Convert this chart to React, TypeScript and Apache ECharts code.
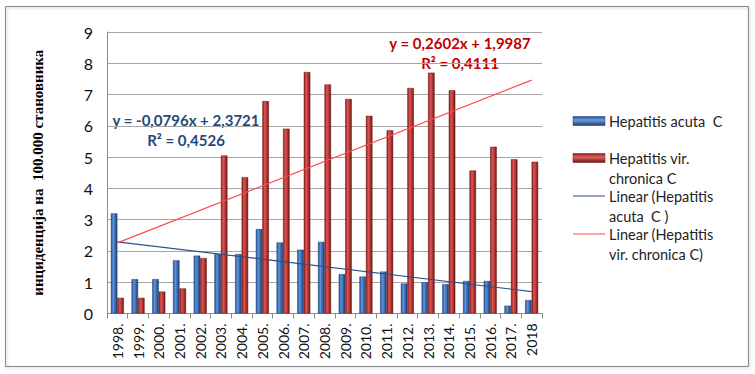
import React, { useEffect, useRef } from "react";
import * as echarts from "echarts";

const years = ["1998.", "1999.", "2000.", "2001.", "2002.", "2003.", "2004.", "2005.", "2006.", "2007.", "2008.", "2009.", "2010.", "2011.", "2012.", "2013.", "2014.", "2015.", "2016.", "2017.", "2018"];
const acute = [3.2, 1.1, 1.1, 1.7, 1.85, 1.9, 1.9, 2.7, 2.27, 2.04, 2.29, 1.26, 1.18, 1.34, 0.96, 1.0, 0.94, 1.04, 1.04, 0.25, 0.43];
const chronic = [0.5, 0.5, 0.7, 0.8, 1.77, 5.05, 4.36, 6.79, 5.91, 7.72, 7.32, 6.86, 6.32, 5.86, 7.21, 7.7, 7.14, 4.57, 5.33, 4.93, 4.85];
const yTicks = [0, 1, 2, 3, 4, 5, 6, 7, 8, 9];
// trend-line coefficients as printed on the chart
const acuteTrend = { slope: -0.0796, intercept: 2.3721 };
const chronicTrend = { slope: 0.2602, intercept: 1.9987 };
const acuteEq = ["y = -0,0796x + 2,3721", "R² = 0,4526"];
const chronicEq = ["y = 0,2602x + 1,9987", "R² = 0,4111"];
const legendNames = ["Hepatitis acuta  C", "Hepatitis vir.\nchronica C", "Linear (Hepatitis\nacuta  C )", "Linear (Hepatitis\nvir. chronica C)"];
const yAxisName = "инциденција на  100.000 становника";

const trendEnds = (t: { slope: number; intercept: number }) => [
  [years[0], t.slope * 1 + t.intercept],
  [years[years.length - 1], t.slope * years.length + t.intercept],
];

const blueGrad = new echarts.graphic.LinearGradient(0, 0, 1, 0, [
  { offset: 0, color: "#244f8c" },
  { offset: 0.35, color: "#5f95dc" },
  { offset: 0.65, color: "#3a6cb3" },
  { offset: 1, color: "#1c3f72" },
]);
const redGrad = new echarts.graphic.LinearGradient(0, 0, 1, 0, [
  { offset: 0, color: "#8a1e1b" },
  { offset: 0.35, color: "#dc5550" },
  { offset: 0.65, color: "#b8393a" },
  { offset: 1, color: "#6a1513" },
]);
const blueLeg = new echarts.graphic.LinearGradient(0, 0, 0, 1, [
  { offset: 0, color: "#244f8c" },
  { offset: 0.4, color: "#6a9de0" },
  { offset: 1, color: "#1c3f72" },
]);
const redLeg = new echarts.graphic.LinearGradient(0, 0, 0, 1, [
  { offset: 0, color: "#8a1e1b" },
  { offset: 0.4, color: "#e06460" },
  { offset: 1, color: "#6a1513" },
]);

export default function App() {
  const ref = useRef<HTMLDivElement>(null);
  useEffect(() => {
    document.body.style.margin = "0";
    const chart = echarts.init(ref.current!, null, { renderer: "svg" });
    const legendX = 573;
    const legendItems = [
      { y: 121, kind: "bar", color: blueLeg, border: "#1c3f72" },
      { y: 158, kind: "bar", color: redLeg, border: "#6a1513" },
      { y: 196, kind: "line", color: "#2e4f8a" },
      { y: 234, kind: "line", color: "#ff4a4a" },
    ];
    const graphics: any[] = [
      {
        type: "rect",
        shape: { x: 5.5, y: 6.5, width: 743, height: 360 },
        style: { fill: "none", stroke: "#8c8c8c", lineWidth: 1, shadowColor: "rgba(0,0,0,0.25)", shadowBlur: 3, shadowOffsetX: 1, shadowOffsetY: 1 },
        silent: true,
      },
    ];
    legendItems.forEach((it, i) => {
      if (it.kind === "bar") {
        graphics.push({
          type: "rect",
          shape: { x: legendX, y: it.y - 4.5, width: 32, height: 9 },
          style: { fill: it.color, stroke: it.border, lineWidth: 0.5 },
        });
      } else {
        graphics.push({
          type: "line",
          shape: { x1: legendX, y1: it.y, x2: legendX + 32, y2: it.y },
          style: { stroke: it.color as string, lineWidth: 1 },
        });
      }
      graphics.push({
        type: "text",
        x: 609,
        y: it.y - 10,
        style: { text: legendNames[i], fontFamily: "Lato", fontSize: 14.5, lineHeight: 20, fill: "#222", verticalAlign: "top", align: "left" },
      });
    });
    graphics.push(
      { type: "text", x: 186, y: 120, style: { text: acuteEq[0], fontFamily: "Lato", fontWeight: "bold", fontSize: 15, fill: "#1f497d", align: "center", verticalAlign: "middle" } },
      { type: "text", x: 186, y: 140, style: { text: acuteEq[1], fontFamily: "Lato", fontWeight: "bold", fontSize: 15, fill: "#1f497d", align: "center", verticalAlign: "middle" } },
      { type: "text", x: 460, y: 43, style: { text: chronicEq[0], fontFamily: "Lato", fontWeight: "bold", fontSize: 15, fill: "#c00000", align: "center", verticalAlign: "middle" } },
      { type: "text", x: 460, y: 63, style: { text: chronicEq[1], fontFamily: "Lato", fontWeight: "bold", fontSize: 15, fill: "#c00000", align: "center", verticalAlign: "middle" } }
    );
    chart.setOption({
      animation: false,
      backgroundColor: "#fff",
      grid: { left: 107, right: 213, top: 32, bottom: 60.5, containLabel: false },
      xAxis: {
        type: "category",
        data: years,
        boundaryGap: true,
        axisLine: { lineStyle: { color: "#8c8c8c", width: 1 } },
        axisTick: { show: true, length: 5, lineStyle: { color: "#8c8c8c" } },
        axisLabel: { rotate: 90, interval: 0, fontFamily: "Lato", fontSize: 14, color: "#111", margin: 10 },
      },
      yAxis: {
        type: "value",
        min: yTicks[0],
        max: yTicks[yTicks.length - 1],
        interval: 1,
        name: yAxisName,
        nameLocation: "middle",
        nameGap: 62,
        nameRotate: 90,
        nameTextStyle: { fontFamily: "Liberation Serif", fontWeight: "bold", fontSize: 15, color: "#000" },
        axisLine: { show: true, lineStyle: { color: "#8c8c8c" } },
        axisTick: { show: false },
        axisLabel: { fontFamily: "Lato", fontSize: 16, color: "#111", margin: 14 },
        splitLine: { lineStyle: { color: "#a6a6a6", width: 1 } },
      },
      series: [
        {
          type: "bar",
          name: legendNames[0],
          data: acute,
          barWidth: 6.5,
          barGap: "0%",
          itemStyle: { color: blueGrad, borderColor: "#1c3f72", borderWidth: 0.5 },
        },
        {
          type: "bar",
          name: legendNames[1],
          data: chronic,
          barWidth: 6.5,
          barGap: "0%",
          itemStyle: { color: redGrad, borderColor: "#6a1513", borderWidth: 0.5 },
        },
        {
          type: "line",
          name: legendNames[2],
          data: trendEnds(acuteTrend),
          symbol: "none",
          lineStyle: { color: "#2e4f8a", width: 1.2 },
          z: 5,
        },
        {
          type: "line",
          name: legendNames[3],
          data: trendEnds(chronicTrend),
          symbol: "none",
          lineStyle: { color: "#ff4a4a", width: 1.2 },
          z: 5,
        },
      ],
      graphic: graphics,
    });
    return () => chart.dispose();
  }, []);
  return <div ref={ref} style={{ width: 755, height: 374, position: "absolute", left: 0, top: 0 }} />;
}
